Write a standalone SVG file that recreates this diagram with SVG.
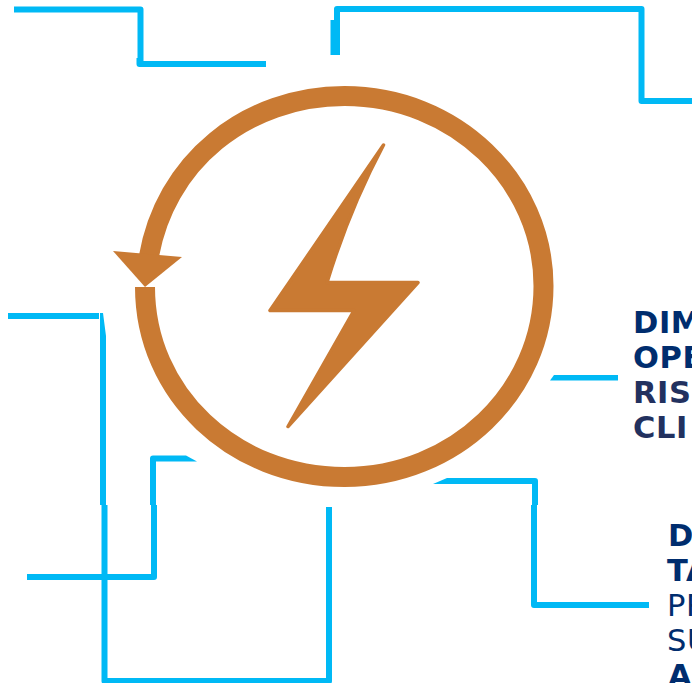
<svg xmlns="http://www.w3.org/2000/svg" width="692" height="683" viewBox="0 0 692 683">
<style>
.c{fill:none;stroke:#00b9f5;stroke-width:6;stroke-linejoin:round}
.f{fill:#00b9f5}
.o{fill:#c97a33}
.t{font-family:"DejaVu Sans",Verdana,sans-serif;font-size:30.5px;fill:#002d6e;letter-spacing:.6px}
.b{font-weight:700}
.d{fill:#22315f}
</style>
<rect width="692" height="683" fill="#ffffff"/>
<g id="connectors">
<path class="c" d="M14 9.500H140.500V62"/>
<path class="c" d="M139.500 58V64H266"/>
<path class="c" d="M337 55V9H641.500V101H692"/>
<path class="c" style="stroke-width:8" d="M334.500 20V55"/>
<path class="f" d="M554 375H618V380.500H550Z"/>
<path class="c" d="M8 316H99"/>
<path class="f" d="M99 313L103 313L106 336V505H100V313Z"/>
<path class="c" d="M104.500 505V681H329V507"/>
<path class="c" d="M27 577H154V505"/>
<path class="c" d="M153 505V458.500H186"/>
<path class="f" d="M186 455.500L197 461.500H186Z"/>
<path class="c" d="M535 505V481H447"/>
<path class="f" d="M447 478L433 484H447Z"/>
<path class="c" d="M534 505V605H649"/>
</g>
<g id="cycle-icon">
<path fill="none" stroke="#c97a33" stroke-width="20" d="M145 287C145 394 234 477 344.500 477C454.500 477 543.500 392 543.500 286C543.500 181 454.500 96 344.500 96C248 96 163 161 148 262"/>
<path class="o" d="M113 251L182 257L145 287Z"/>
</g>
<g id="bolt-icon">
<path class="o" stroke="#c97a33" stroke-width="3.500" stroke-linejoin="round" d="M383.500 145L270 310.500H354L288 426.500L418 282.500H327Q349 210 383.500 145Z"/>
</g>
<g id="label-right" class="t b">
<text x="633" y="333">DIM</text>
<text x="633" y="368">OPE</text>
<text x="633" y="403" class="d">RIS</text>
<text x="633" y="438" class="d">CLI</text>
</g>
<g id="label-bottom" class="t">
<text x="668" y="546" class="b">D</text>
<text x="667" y="581" class="b">TA</text>
<text x="667" y="616">PR</text>
<text x="667" y="651">SU</text>
<text x="668" y="686" class="b">A</text>
</g>
</svg>
